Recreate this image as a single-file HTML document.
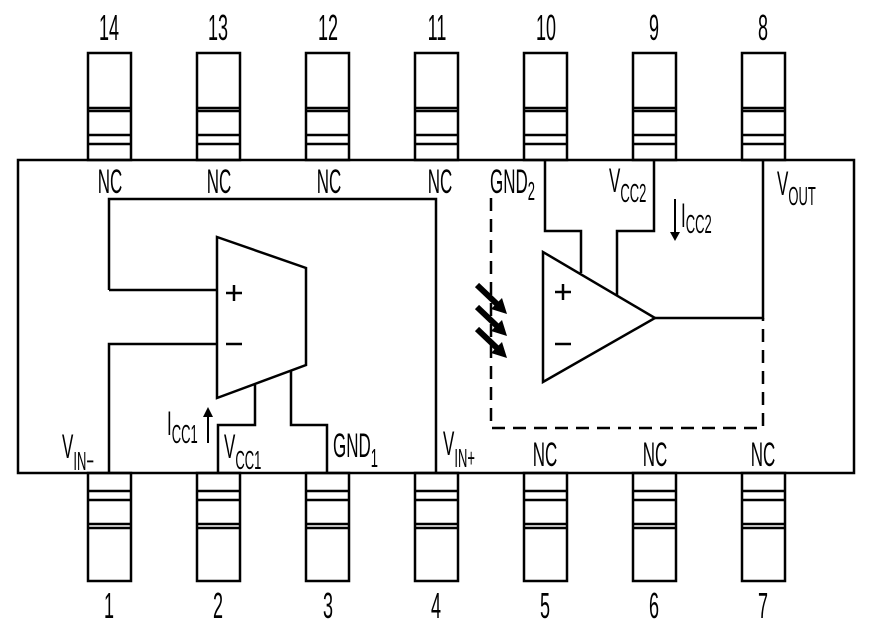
<!DOCTYPE html>
<html><head><style>
html,body{margin:0;padding:0;background:#fff;}
svg{display:block;}
text{font-family:"Liberation Sans",sans-serif;fill:#000;}
</style></head><body>
<svg width="880" height="627" viewBox="0 0 880 627" xmlns="http://www.w3.org/2000/svg">
<g fill="none" stroke="#000" stroke-width="2.5">
<rect x="18" y="160" width="836" height="313"/>
<g id="tp">
<rect x="88" y="53" width="43" height="107"/>
<line x1="88" y1="108" x2="131" y2="108"/><line x1="88" y1="111" x2="131" y2="111"/>
<line x1="88" y1="135" x2="131" y2="135"/><line x1="88" y1="144" x2="131" y2="144"/>
</g>
<use href="#tp" x="109"/><use href="#tp" x="218"/><use href="#tp" x="327"/>
<use href="#tp" x="436"/><use href="#tp" x="545"/><use href="#tp" x="654"/>
<g id="bp">
<rect x="88" y="473" width="43" height="108"/>
<line x1="88" y1="491" x2="131" y2="491"/><line x1="88" y1="500" x2="131" y2="500"/>
<line x1="88" y1="524" x2="131" y2="524"/><line x1="88" y1="528" x2="131" y2="528"/>
</g>
<use href="#bp" x="109"/><use href="#bp" x="218"/><use href="#bp" x="327"/>
<use href="#bp" x="436"/><use href="#bp" x="545"/><use href="#bp" x="654"/>
<polyline points="109,290 109,199 436,199 436,473"/>
<line x1="109" y1="290" x2="217" y2="290"/>
<polyline points="109,473 109,344 217,344"/>
<polygon points="217,237 306,268 306,365 217,398"/>
<polyline points="255,385 255,425 218,425 218,473"/>
<polyline points="291,371 291,425 327,425 327,473"/>
<polygon points="543,252 543,382 655,318"/>
<polyline points="545,160 545,231 581,231 581,273"/>
<polyline points="654,160 654,231 617,231 617,295"/>
<polyline points="655,318 763,318 763,160"/>
<path d="M491,198 V428 H763 V318" stroke-dasharray="13,8"/>
<line x1="226" y1="293" x2="242" y2="293"/><line x1="234" y1="285" x2="234" y2="301"/>
<line x1="226" y1="344" x2="242" y2="344"/>
<line x1="555" y1="292" x2="571" y2="292"/><line x1="563" y1="284" x2="563" y2="300"/>
<line x1="555" y1="344" x2="571" y2="344"/>
</g>
<g stroke="#000" stroke-width="6" fill="#000">
<line x1="477" y1="285" x2="498" y2="305"/>
<line x1="477" y1="307" x2="498" y2="327"/>
<line x1="477" y1="329" x2="498" y2="349"/>
</g>
<g fill="#000">
<polygon points="507,314 491,309 502,298"/>
<polygon points="507,336 491,331 502,320"/>
<polygon points="507,358 491,353 502,342"/>
<polygon points="203,417 213,417 208,407"/>
<polygon points="670,232 680,232 675,241"/>
</g>
<line x1="208" y1="415" x2="208" y2="443" stroke="#000" stroke-width="2"/>
<line x1="675" y1="199" x2="675" y2="233" stroke="#000" stroke-width="2"/>
<g font-size="36" text-anchor="middle">
<text transform="translate(109,40) scale(0.5,1)">14</text>
<text transform="translate(218,40) scale(0.5,1)">13</text>
<text transform="translate(328,40) scale(0.5,1)">12</text>
<text transform="translate(437,40) scale(0.5,1)">11</text>
<text transform="translate(546,40) scale(0.5,1)">10</text>
<text transform="translate(654,40) scale(0.5,1)">9</text>
<text transform="translate(763,40) scale(0.5,1)">8</text>
<text transform="translate(109,618) scale(0.5,1)">1</text>
<text transform="translate(218,618) scale(0.5,1)">2</text>
<text transform="translate(328,618) scale(0.5,1)">3</text>
<text transform="translate(436,618) scale(0.5,1)">4</text>
<text transform="translate(545,618) scale(0.5,1)">5</text>
<text transform="translate(654,618) scale(0.5,1)">6</text>
<text transform="translate(763,618) scale(0.5,1)">7</text>
</g>
<g font-size="34" text-anchor="middle">
<text transform="translate(110,193) scale(0.5,1)">NC</text>
<text transform="translate(219,193) scale(0.5,1)">NC</text>
<text transform="translate(329,193) scale(0.5,1)">NC</text>
<text transform="translate(440,193) scale(0.5,1)">NC</text>
<text transform="translate(545,466) scale(0.5,1)">NC</text>
<text transform="translate(655,466) scale(0.5,1)">NC</text>
<text transform="translate(763,466) scale(0.5,1)">NC</text>
</g>
<g font-size="34">
<text transform="translate(490,193) scale(0.5,1)">GND<tspan font-size="26" dy="7">2</tspan></text>
<text transform="translate(609,192) scale(0.5,1)">V<tspan font-size="26" dy="10">CC2</tspan></text>
<text transform="translate(777,195) scale(0.5,1)">V<tspan font-size="26" dy="10">OUT</tspan></text>
<text transform="translate(681,227) scale(0.5,1)">I<tspan font-size="26" dy="6">CC2</tspan></text>
<text transform="translate(62,458) scale(0.5,1)">V<tspan font-size="26" dy="12">IN−</tspan></text>
<text transform="translate(167,435) scale(0.5,1)">I<tspan font-size="26" dy="8">CC1</tspan></text>
<text transform="translate(224,458) scale(0.5,1)">V<tspan font-size="26" dy="11">CC1</tspan></text>
<text transform="translate(333,457) scale(0.5,1)">GND<tspan font-size="26" dy="10">1</tspan></text>
<text transform="translate(443,455) scale(0.5,1)">V<tspan font-size="26" dy="12">IN+</tspan></text>
</g>
</svg>
</body></html>
